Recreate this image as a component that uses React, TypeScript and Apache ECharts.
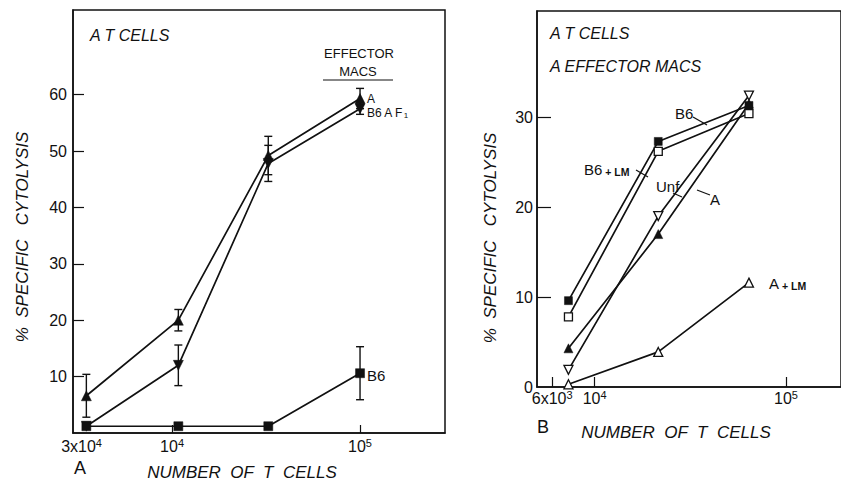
import React, { useEffect, useRef } from "react";
import * as echarts from "echarts";

// ---------- Panel A data ----------
const cellsA = [3.5e3, 1.08e4, 3.25e4, 1.0e5];
const lysisA_A = [6.6, 20.0, 49.2, 59.3];
const errA_A = [3.8, 1.9, 3.4, 1.8];
const lysisA_B6AF1 = [1.2, 12.0, 47.8, 57.5];
const errA_B6AF1 = [0, 3.6, 3.2, 1.0];
const lysisA_B6 = [1.2, 1.2, 1.2, 10.6];
const errA_B6 = [0, 0, 0, 4.7];

const yTicksA = [10, 20, 30, 40, 50, 60];
const xLabelCellsA = [3.3e3, 1e4, 1e5];
const xLabelTextA = ["3x10{sup|4}", "10{sup|4}", "10{sup|5}"];
const xTickCellsA = [1e4, 1e5];

// ---------- Panel B data ----------
const cellsB = [7.3e3, 2.15e4, 6.4e4];
const lysisB_B6 = [9.6, 27.3, 31.3];
const lysisB_B6LM = [7.8, 26.2, 30.4];
const lysisB_A = [4.3, 17.0, 31.5];
const lysisB_Unf = [1.9, 19.0, 32.4];
const lysisB_ALM = [0.3, 3.9, 11.6];

const yTicksB = [0, 10, 20, 30];
const xLabelCellsB = [6e3, 1e4, 1e5];
const xLabelTextB = ["6x10{sup|3}", "10{sup|4}", "10{sup|5}"];
const xTickCellsB = [6e3, 1e4, 1e5];

const INK = "#111";
const FONT = "'Liberation Sans', 'Helvetica', 'Arial', sans-serif";

const lg = (v: number) => Math.log10(v);

function lineSeries(name: string, xi: number, xs: number[], ys: number[], symbol: string, rotate: number, filled: boolean, size: number) {
  return {
    name,
    type: "line",
    xAxisIndex: xi,
    yAxisIndex: xi,
    data: xs.map((x, i) => [lg(x), ys[i]]),
    symbol,
    symbolRotate: rotate,
    symbolSize: size,
    showSymbol: true,
    lineStyle: { color: INK, width: 1.7 },
    itemStyle: filled
      ? { color: INK, borderColor: INK, borderWidth: 0.5 }
      : { color: "#fff", borderColor: INK, borderWidth: 1.3 },
    z: 3,
    silent: true,
  };
}

function errSeries(xi: number, xs: number[], ys: number[], es: number[]) {
  const data = xs
    .map((x, i) => (es[i] > 0 ? [lg(x), ys[i] - es[i], ys[i] + es[i]] : null))
    .filter((d) => d !== null);
  return {
    type: "custom",
    xAxisIndex: xi,
    yAxisIndex: xi,
    data,
    encode: { x: 0, y: [1, 2] },
    silent: true,
    z: 2,
    renderItem: (_p: any, api: any) => {
      const x = api.value(0);
      const lo = api.coord([x, api.value(1)]);
      const hi = api.coord([x, api.value(2)]);
      const w = 4;
      const st = { stroke: INK, lineWidth: 1.4 };
      return {
        type: "group",
        children: [
          { type: "line", shape: { x1: lo[0], y1: lo[1], x2: hi[0], y2: hi[1] }, style: st },
          { type: "line", shape: { x1: lo[0] - w, y1: lo[1], x2: lo[0] + w, y2: lo[1] }, style: st },
          { type: "line", shape: { x1: hi[0] - w, y1: hi[1], x2: hi[0] + w, y2: hi[1] }, style: st },
        ],
      };
    },
  };
}

const supRich = {
  sup: { fontSize: 11, verticalAlign: "top", lineHeight: 10, fontFamily: FONT, color: INK },
};

function txt(text: string, x: number, y: number, size: number, opts: any = {}) {
  return {
    type: "text",
    x,
    y,
    rotation: opts.rotation || 0,
    silent: true,
    style: {
      text,
      fontSize: size,
      fontFamily: FONT,
      fontStyle: opts.italic ? "italic" : "normal",
      fill: INK,
      align: opts.align || "left",
      verticalAlign: "middle",
      lineHeight: opts.lineHeight,
      rich: opts.rich,
    },
  };
}

function seg(x1: number, y1: number, x2: number, y2: number, w = 1.2) {
  return { type: "line", silent: true, shape: { x1, y1, x2, y2 }, style: { stroke: INK, lineWidth: w } };
}

export default function App() {
  const ref = useRef<HTMLDivElement>(null);
  useEffect(() => {
    if (!ref.current) return;
    const chart = echarts.init(ref.current, null, { renderer: "svg" });
    const smallRich = {
      s: { fontSize: 10.5, fontFamily: FONT, color: INK, fontWeight: "bold", verticalAlign: "bottom", lineHeight: 12 },
      sub: { fontSize: 8, verticalAlign: "bottom", lineHeight: 8, fontFamily: FONT, color: INK, padding: [4, 0, 0, 0] },
    };
    const option: any = {
      animation: false,
      backgroundColor: "#fff",
      textStyle: { fontFamily: FONT, color: INK },
      grid: [
        { left: 73, top: 10, width: 372, height: 423, show: true, borderColor: INK, borderWidth: 1.5, backgroundColor: "transparent" },
        { left: 537, top: 11, width: 320, height: 376, show: true, borderColor: INK, borderWidth: 1.5, backgroundColor: "transparent" },
      ],
      xAxis: [
        {
          type: "value",
          gridIndex: 0,
          min: 3.473,
          max: 5.452,
          splitLine: { show: false },
          axisLine: { lineStyle: { color: INK, width: 1.5 } },
          axisTick: { inside: true, length: 8, customValues: xTickCellsA.map(lg), lineStyle: { color: INK, width: 1.2 } },
          axisLabel: {
            customValues: xLabelCellsA.map(lg),
            formatter: (v: number) => {
              const i = xLabelCellsA.findIndex((c) => Math.abs(lg(c) - v) < 1e-6);
              return i >= 0 ? xLabelTextA[i] : "";
            },
            fontSize: 16,
            lineHeight: 19,
            margin: 4,
            color: INK,
            fontFamily: FONT,
            rich: supRich,
          },
        },
        {
          type: "value",
          gridIndex: 1,
          min: 3.699,
          max: 3.699 + 320 / 201.5,
          splitLine: { show: false },
          axisLine: { lineStyle: { color: INK, width: 1.5 } },
          axisTick: { inside: true, length: 10, customValues: xTickCellsB.map(lg), lineStyle: { color: INK, width: 1.2 } },
          axisLabel: {
            customValues: xLabelCellsB.map(lg),
            formatter: (v: number) => {
              const i = xLabelCellsB.findIndex((c) => Math.abs(lg(c) - v) < 1e-6);
              return i >= 0 ? xLabelTextB[i] : "";
            },
            fontSize: 16,
            lineHeight: 19,
            margin: 2,
            color: INK,
            fontFamily: FONT,
            rich: supRich,
          },
        },
      ],
      yAxis: [
        {
          type: "value",
          gridIndex: 0,
          min: 0,
          max: 75,
          splitLine: { show: false },
          axisLine: { show: true, lineStyle: { color: INK, width: 1.5 } },
          axisTick: { show: true, inside: true, length: 11, customValues: yTicksA, lineStyle: { color: INK, width: 1.2 } },
          axisLabel: { customValues: yTicksA, fontSize: 16, margin: 6, color: INK, fontFamily: FONT },
        },
        {
          type: "value",
          gridIndex: 1,
          min: 0,
          max: 41.8,
          splitLine: { show: false },
          axisLine: { show: true, lineStyle: { color: INK, width: 1.5 } },
          axisTick: { show: true, inside: true, length: 14, customValues: yTicksB.slice(1), lineStyle: { color: INK, width: 1.2 } },
          axisLabel: { customValues: yTicksB, fontSize: 16, margin: 4, color: INK, fontFamily: FONT },
        },
      ],
      series: [
        errSeries(0, cellsA, lysisA_A, errA_A),
        errSeries(0, cellsA, lysisA_B6AF1, errA_B6AF1),
        errSeries(0, cellsA, lysisA_B6, errA_B6),
        lineSeries("A", 0, cellsA, lysisA_A, "triangle", 0, true, 10),
        lineSeries("B6AF1", 0, cellsA, lysisA_B6AF1, "triangle", 180, true, 10),
        lineSeries("B6", 0, cellsA, lysisA_B6, "rect", 0, true, 9),
        lineSeries("B6 (B)", 1, cellsB, lysisB_B6, "rect", 0, true, 8),
        lineSeries("B6+LM", 1, cellsB, lysisB_B6LM, "rect", 0, false, 8),
        lineSeries("A (B)", 1, cellsB, lysisB_A, "triangle", 0, true, 9),
        lineSeries("Unf", 1, cellsB, lysisB_Unf, "triangle", 180, false, 9),
        lineSeries("A+LM", 1, cellsB, lysisB_ALM, "triangle", 0, false, 9),
      ],
      graphic: [
        // Panel A
        txt("A T CELLS", 90, 35, 16, { italic: true }),
        txt("EFFECTOR", 359, 53, 13, { align: "center" }),
        txt("MACS", 358, 71, 13, { align: "center" }),
        seg(323, 80, 393, 80, 1.2),
        txt("A", 367, 99, 12),
        txt("B6 A F{sub|1}", 367, 113, 12, { rich: smallRich }),
        txt("B6", 367, 375, 15),
        txt("A", 80, 468, 18, { align: "center" }),
        txt("NUMBER  OF  T  CELLS", 242, 472, 17, { italic: true, align: "center" }),
        txt("%  SPECIFIC   CYTOLYSIS", 22, 237, 17, { italic: true, align: "center", rotation: Math.PI / 2 }),
        // Panel B
        txt("A T CELLS", 550, 33, 16, { italic: true }),
        txt("A EFFECTOR MACS", 550, 66, 16, { italic: true }),
        txt("B6", 675, 113, 15),
        seg(693, 117, 707, 125),
        txt("B6{s| + LM}", 584, 169, 15, { rich: smallRich, lineHeight: 16 }),
        seg(636, 170, 648, 177),
        txt("Unf", 656, 186, 15),
        seg(673, 193, 682, 197),
        txt("A", 710, 199, 15),
        seg(697, 190, 710, 195),
        txt("A{s| + LM}", 769, 283, 15, { rich: smallRich, lineHeight: 16 }),
        txt("B", 543, 427, 18, { align: "center" }),
        txt("NUMBER  OF  T  CELLS", 676, 432, 17, { italic: true, align: "center" }),
        txt("%  SPECIFIC   CYTOLYSIS", 490, 238, 17, { italic: true, align: "center", rotation: Math.PI / 2 }),
      ],
    };
    chart.setOption(option);
    return () => chart.dispose();
  }, []);
  return (
    <div style={{ position: "fixed", left: 0, top: 0, width: 841, height: 487, background: "#fff" }}>
      <div ref={ref} style={{ width: 841, height: 487 }} />
    </div>
  );
}
